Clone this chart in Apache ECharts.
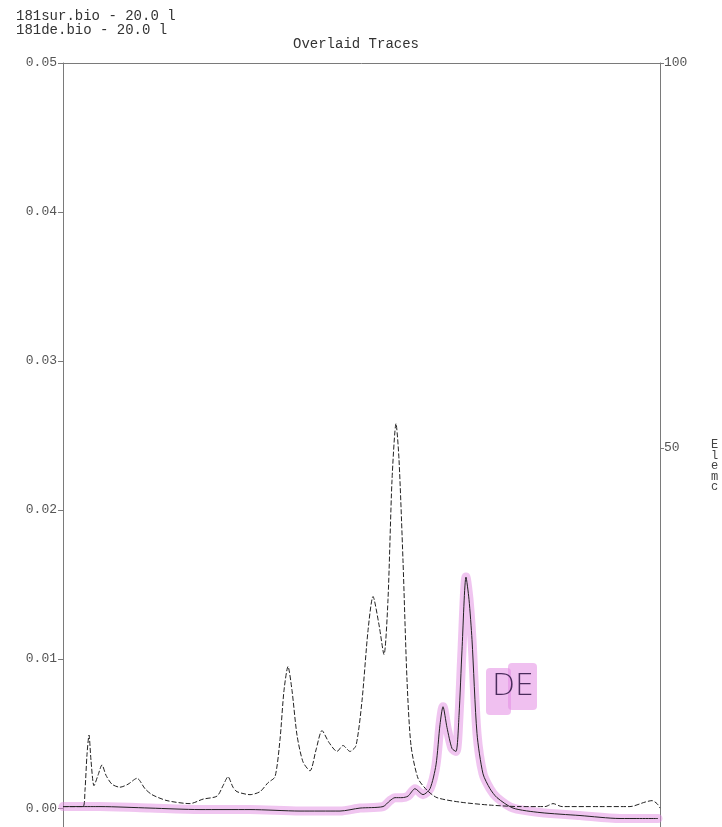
<!DOCTYPE html>
<html>
<head>
<meta charset="utf-8">
<script src="https://cdn.jsdelivr.net/npm/echarts@6/dist/echarts.min.js"></script>
<style>html,body{margin:0;padding:0;background:#fff}#c{width:722px;height:827px}</style>
</head>
<body>
<div id="c"></div>
<script>
// Time (min) and absorbance readings, dashed trace (181sur.bio)
var surTime = [0.0,1.0,2.0,2.2,2.4,2.6,2.8,3.1,3.5,3.9,4.3,4.9,5.7,6.5,7.4,8.2,8.9,10.4,12.7,14.0,15.4,16.0,16.5,17.0,17.4,18.7,19.7,20.5,21.2,21.7,22.1,22.5,22.9,23.4,24.0,24.7,25.3,25.9,26.6,27.4,28.0,28.7,29.3,29.9,30.5,31.0,31.6,32.1,32.5,32.9,33.3,33.6,34.0,34.4,34.8,35.5,36.4,37.4,39.7,42.7,45.7,48.2,49.0,49.9,53.7,56.7,58.2,58.9,59.4,59.7];
var surValues = [0.0001,0.0001,0.0001,0.0012,0.0036,0.0049,0.0032,0.0015,0.0022,0.0029,0.0022,0.0016,0.0014,0.0016,0.0020,0.0013,0.0009,0.0005,0.0003,0.0006,0.0008,0.0015,0.0021,0.0014,0.0011,0.0009,0.0011,0.0017,0.0021,0.0046,0.0079,0.0095,0.0079,0.0049,0.0031,0.0025,0.0039,0.0052,0.0044,0.0038,0.0042,0.0038,0.0042,0.0072,0.0119,0.0142,0.0123,0.0103,0.0140,0.0220,0.0258,0.0234,0.0166,0.0086,0.0042,0.0020,0.0012,0.0007,0.0004,0.0002,0.0001,0.0001,0.0003,0.0001,0.0001,0.0001,0.0004,0.0005,0.0003,0.0000];
// solid trace (181de.bio)
var deTime = [0.0,3.7,8.7,13.7,18.7,23.7,27.7,29.7,32.0,32.7,33.2,33.9,34.5,35.2,36.0,36.7,37.3,37.7,38.0,38.4,38.9,39.3,39.6,39.9,40.3,40.6,40.9,41.4,42.0,42.7,43.4,45.0,47.7,51.7,55.7,59.5];
var deValues = [0.0001,0.0001,0.0000,-0.0001,-0.0001,-0.0002,-0.0002,0.0000,0.0001,0.0005,0.0007,0.0007,0.0008,0.0013,0.0009,0.0013,0.0029,0.0056,0.0068,0.0054,0.0040,0.0038,0.0062,0.0106,0.0155,0.0140,0.0113,0.0050,0.0023,0.0013,0.0007,0.0000,-0.0003,-0.0005,-0.0007,-0.0007];
var leftTicks = [0, 0.01, 0.02, 0.03, 0.04, 0.05];
var rightTicks = [50, 100];
var headerLines = ['181sur.bio - 20.0 l', '181de.bio - 20.0 l'];
var titleText = 'Overlaid Traces';
var sideLines = ['E', 'l', 'e', 'm', 'c'];

function pairs(xs, ys) { return xs.map(function (x, i) { return [x, ys[i]]; }); }

var chart = echarts.init(document.getElementById('c'), null, { renderer: 'canvas' });
var mono = 'Liberation Mono';
var axisColor = '#7a7a7a';

var graphics = [];
headerLines.forEach(function (t, i) {
  graphics.push({ type: 'text', left: 16, top: 9 + i * 14, style: { text: t, font: '14px "' + mono + '"', fill: '#333' } });
});
graphics.push({ type: 'text', left: 293, top: 37, style: { text: titleText, font: '14px "' + mono + '"', fill: '#333' } });
sideLines.forEach(function (t, i) {
  graphics.push({ type: 'text', left: 711, top: 439 + i * 10.5, style: { text: t, font: '12px "' + mono + '"', fill: '#444' } });
});
// handwritten annotation with pink marker
graphics.push({ type: 'rect', shape: { x: 486, y: 668, width: 25, height: 47, r: 4 }, style: { fill: 'rgba(228,140,228,0.55)' }, z: 5 });
graphics.push({ type: 'rect', shape: { x: 508, y: 663, width: 29, height: 47, r: 4 }, style: { fill: 'rgba(228,140,228,0.55)' }, z: 5 });
graphics.push({ type: 'text', left: 492, top: 672, style: { text: 'DE', font: '300 30px "DejaVu Sans"', fill: '#4a2c5c' }, z: 6 });

chart.setOption({
  animation: false,
  backgroundColor: '#fff',
  grid: { left: 63, right: 62, top: 63, bottom: 0, containLabel: false },
  xAxis: {
    type: 'value', min: 0, max: 59.7, position: 'top',
    axisLine: { show: true, onZero: false, lineStyle: { color: axisColor, width: 1 } },
    axisTick: { show: false }, axisLabel: { show: false }, splitLine: { show: false }
  },
  yAxis: [{
    type: 'value', min: -0.00127, max: 0.05, position: 'left',
    axisLine: { show: true, onZero: false, lineStyle: { color: axisColor, width: 1 } },
    axisTick: { show: true, inside: false, length: 5, customValues: leftTicks, lineStyle: { color: axisColor } },
    axisLabel: { show: true, customValues: leftTicks, margin: 6, color: '#555', fontFamily: mono, fontSize: 13,
      formatter: function (v) { return v.toFixed(2); } },
    splitLine: { show: false }
  }, {
    type: 'value', min: 0.78, max: 100, position: 'right',
    axisLine: { show: true, onZero: false, lineStyle: { color: axisColor, width: 1 } },
    axisTick: { show: true, inside: false, length: 4, customValues: rightTicks, lineStyle: { color: axisColor } },
    axisLabel: { show: true, customValues: rightTicks, margin: 4, color: '#555', fontFamily: mono, fontSize: 13 },
    splitLine: { show: false }
  }],
  series: [{
    name: 'highlight', type: 'line', data: pairs(deTime, deValues), yAxisIndex: 0,
    symbol: 'none', smooth: 0.25, silent: true, z: 1,
    lineStyle: { color: 'rgba(226,140,226,0.5)', width: 9, cap: 'round', join: 'round' }
  }, {
    name: '181de.bio', type: 'line', data: pairs(deTime, deValues), yAxisIndex: 0,
    symbol: 'none', smooth: 0.25, z: 3,
    lineStyle: { color: '#222', width: 1 }
  }, {
    name: '181sur.bio', type: 'line', data: pairs(surTime, surValues), yAxisIndex: 0,
    symbol: 'none', smooth: 0.25, z: 3,
    lineStyle: { color: '#222', width: 1, type: [5, 2] }
  }],
  graphic: graphics
});
</script>
</body>
</html>
